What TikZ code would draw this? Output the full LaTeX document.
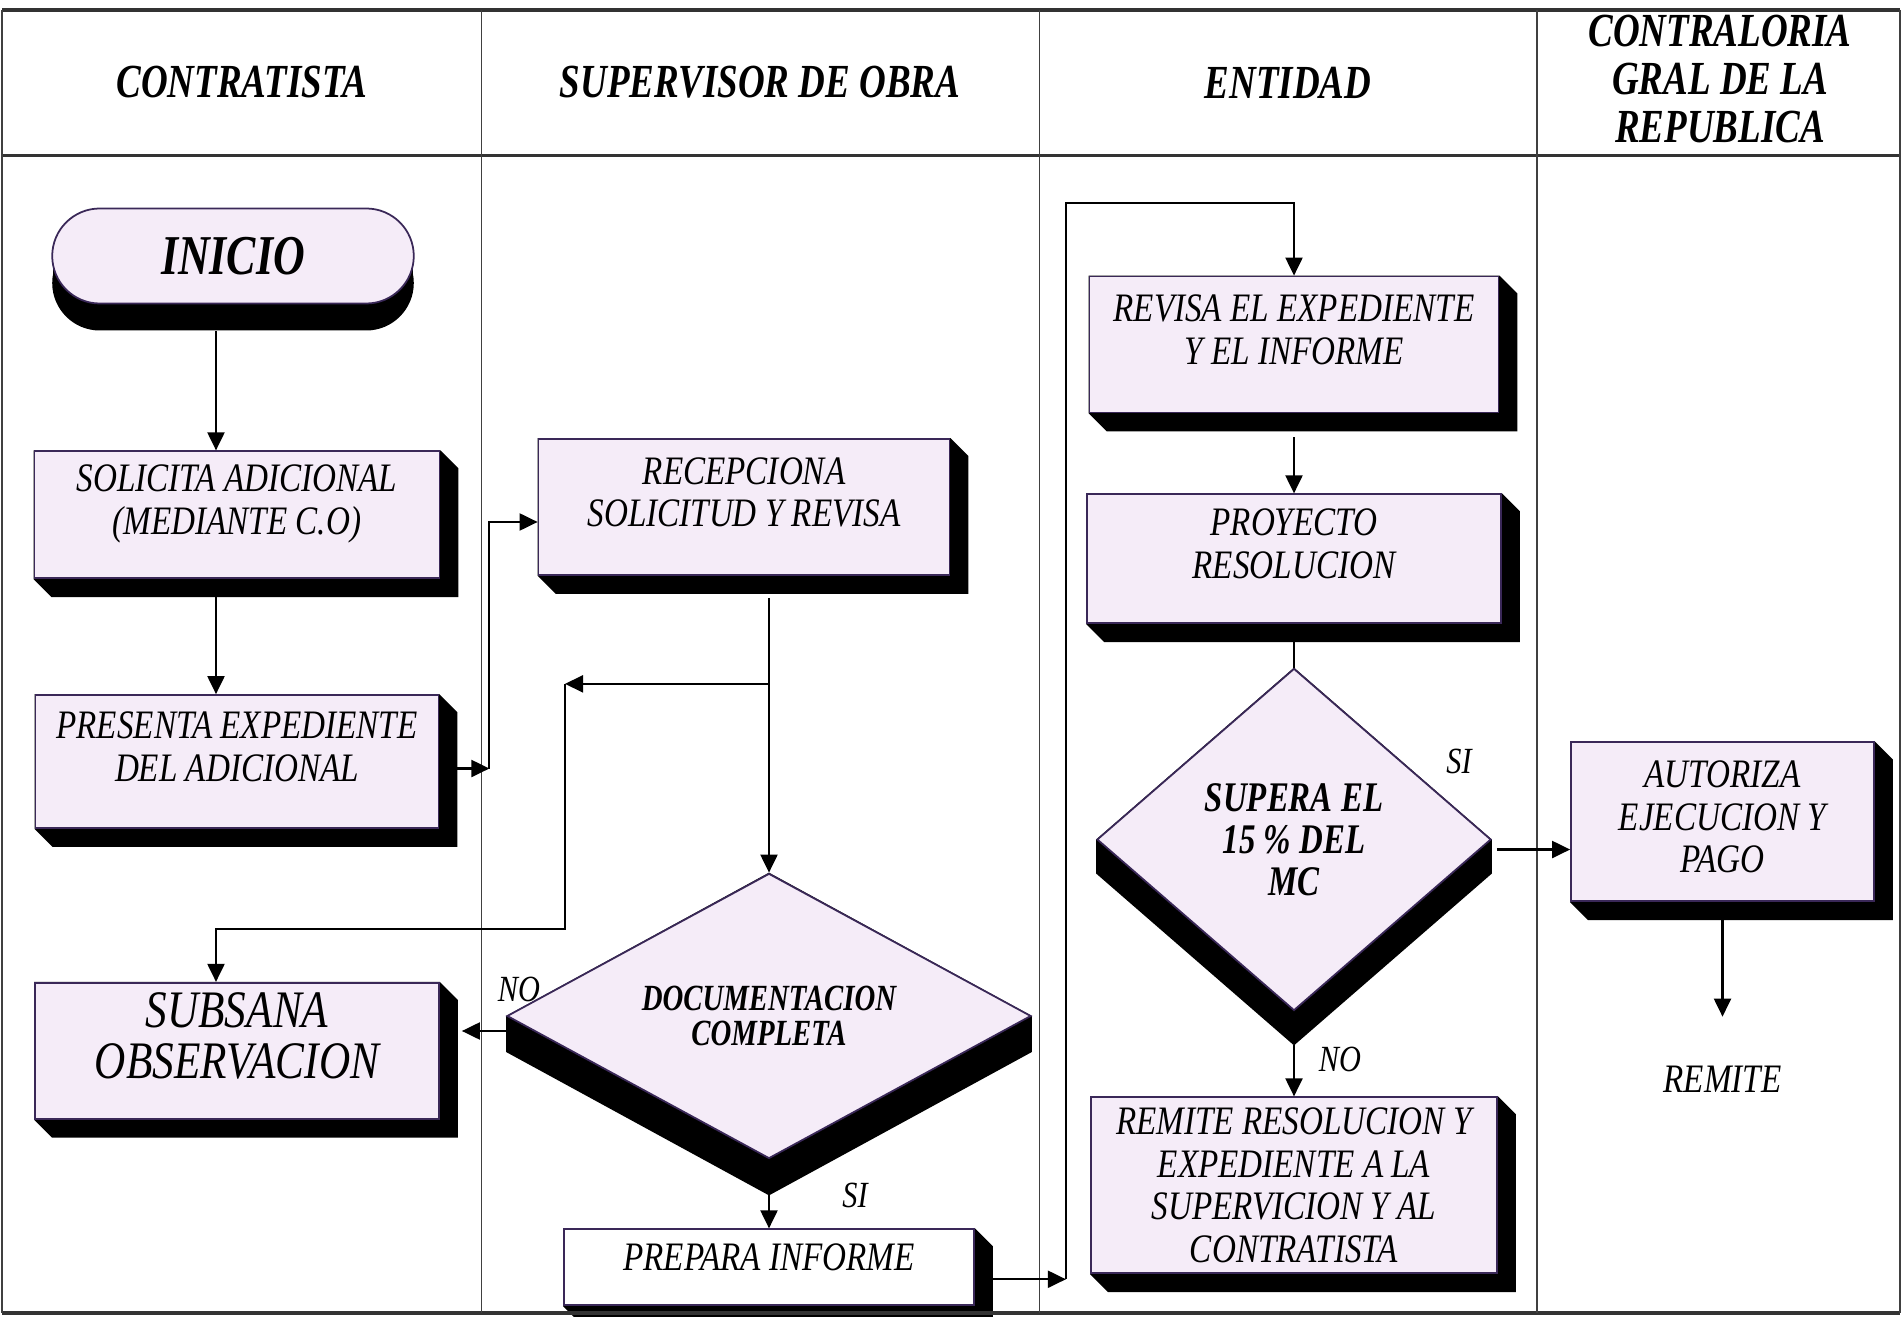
\documentclass[tikz,border=0pt]{standalone}
\usepackage{fontspec}
\setmainfont{Liberation Serif}
\newfontfamily\letra[FakeStretch=0.82]{Liberation Serif}
\newfontfamily\titulo[FakeStretch=0.78]{Liberation Serif}
\usetikzlibrary{positioning,calc,shapes.geometric,shapes.misc,shadows,arrows.meta}
\definecolor{lila}{RGB}{245,236,248}
\definecolor{borde}{RGB}{58,40,88}
\pgfdeclarelayer{fondo}
\pgfsetlayers{fondo,main}

% sombra en relieve de una caja y de un rombo
\newcommand{\sombracaja}[1]{%
  \fill[black] (#1.north west) -- (#1.north east) -- ++(.18,-.18)
    -- ($(#1.south east)+(.18,-.18)$) -- ($(#1.south west)+(.18,-.18)$) -- (#1.south west) -- cycle;}
\newcommand{\sombrarombo}[2]{%
  \fill[black] (#1.north) -- (#1.east) -- ++(0,-#2)
    -- ($(#1.south)+(0,-#2)$) -- ($(#1.west)+(0,-#2)$) -- (#1.west) -- cycle;}

\tikzset{
  caja/.style={rectangle, draw=borde, line width=.5pt, fill=lila, align=center, inner sep=1pt,
               text depth=.3cm, font=\letra\itshape\fontsize{11.5}{12.1}\selectfont},
  decision/.style={diamond, draw=borde, line width=.5pt, fill=lila, align=center, inner sep=0pt,
                   font=\titulo\bfseries\itshape\fontsize{10.5}{10.2}\selectfont},
  inicio/.style={rounded rectangle, draw=borde, line width=.5pt, fill=lila,
                 minimum width=3.85cm, minimum height=.95cm,
                 general shadow={fill=black, shadow xshift=0cm, shadow yshift=-.27cm},
                 font=\titulo\bfseries\itshape\fontsize{16}{16}\selectfont},
  carril/.style={align=center, font=\titulo\bfseries\itshape\fontsize{13.5}{13.6}\selectfont},
  etiqueta/.style={inner sep=0pt, font=\letra\itshape\fontsize{10.5}{12}\selectfont},
  flecha/.style={line width=.6pt, -{Triangle[length=1.8mm,width=1.7mm]}},
  linea/.style={line width=.6pt},
  marco/.style={line width=.5pt, black!75},
  marcoh/.style={line width=1pt, black!80}
}

\begin{document}
\begin{tikzpicture}
\useasboundingbox (0,0) rectangle (19.02,-13.17);

% marco y carriles
\draw[marcoh] (0.02,-0.10) -- (19.0,-0.10);
\draw[marcoh] (0.02,-1.553) -- (19.0,-1.553);
\draw[marcoh] (0.02,-13.13) -- (19.0,-13.13);
\foreach \x in {0.02,4.816,10.395,15.369,19.0}
  \draw[marco] (\x,-0.10) -- (\x,-13.13);

\node[carril] (tContratista) at (2.42,-0.825) {CONTRATISTA};
\node[carril] (tSupervisor) at (7.60,-0.825) {SUPERVISOR DE OBRA};
\node[carril] (tEntidad) at (12.88,-0.825) {ENTIDAD};
\node[carril] (tContraloria) at (17.20,-0.79) {CONTRALORIA\\GRAL DE LA\\REPUBLICA};

% contratista
\node[inicio] (inicio) at (2.33,-2.56) {INICIO};
\node[caja, minimum width=4.05cm, minimum height=1.27cm, below=1.46cm of inicio, xshift=.04cm] (solicita) {SOLICITA ADICIONAL\\(MEDIANTE C.O)};
\node[caja, minimum width=4.03cm, minimum height=1.33cm, below=1.15cm of solicita] (presenta) {PRESENTA EXPEDIENTE\\DEL ADICIONAL};
\node[caja, minimum width=4.04cm, minimum height=1.36cm, below=1.53cm of presenta,
      font=\letra\itshape\fontsize{15}{14.5}\selectfont] (subsana) {SUBSANA\\OBSERVACION};

% supervisor de obra
\node[caja, minimum width=4.11cm, minimum height=1.36cm] (recepciona) at (7.44,-5.07) {RECEPCIONA\\SOLICITUD Y REVISA};
\node[decision, minimum width=5.24cm, minimum height=2.85cm, aspect=1.84] (documentacion) at (7.69,-10.16) {DOCUMENTACION\\COMPLETA};
\node[caja, fill=white, text depth=.2cm, minimum width=4.10cm, minimum height=.76cm, below=.69cm of documentacion] (prepara) {PREPARA INFORME};

% entidad
\node[caja, minimum width=4.09cm, minimum height=1.36cm] (revisa) at (12.94,-3.445) {REVISA EL EXPEDIENTE\\Y EL INFORME};
\node[caja, minimum width=4.14cm, minimum height=1.29cm, below=.80cm of revisa] (proyecto) {PROYECTO\\RESOLUCION};
\node[decision, minimum width=3.94cm, minimum height=3.42cm, aspect=1.15, below=.435cm of proyecto,
      font=\titulo\bfseries\itshape\fontsize{12}{11.9}\selectfont] (supera) {SUPERA EL\\15 \% DEL\\MC};
\node[caja, text depth=0pt, minimum width=4.06cm, minimum height=1.76cm, below=.85cm of supera] (remite) {REMITE RESOLUCION Y\\EXPEDIENTE A LA\\SUPERVICION Y AL\\CONTRATISTA};

% contraloria
\node[caja, text depth=.1cm, minimum width=3.03cm, minimum height=1.59cm] (autoriza) at (17.225,-8.218) {AUTORIZA\\EJECUCION Y\\PAGO};
\node[etiqueta, font=\letra\itshape\fontsize{11.5}{12}\selectfont] (remiteC) at (17.225,-10.796) {REMITE};

% etiquetas
\node[etiqueta] (noA) at (5.19,-9.89) {NO};
\node[etiqueta] (siA) at (8.55,-11.95) {SI};
\node[etiqueta] (siB) at (14.59,-7.61) {SI};
\node[etiqueta] (noB) at (13.40,-10.59) {NO};

% sombras
\begin{pgfonlayer}{fondo}
  \foreach \n in {solicita,presenta,subsana,recepciona,prepara,revisa,proyecto,remite,autoriza}
    {\sombracaja{\n}}
  \sombrarombo{documentacion}{.36}
  \sombrarombo{supera}{.34}
  \fill[black] ($(inicio.west)+(.02,-.27)$) rectangle ($(inicio.east)+(-.02,0)$);
\end{pgfonlayer}

% conectores
\coordinate (ejeA) at (2.16,0);
\draw[flecha] ($(inicio.south -| ejeA)+(0,-.27)$) -- (solicita.north -| ejeA);
\draw[flecha] ($(solicita.south -| ejeA)+(0,-.18)$) -- (presenta.north -| ejeA);
\draw[flecha] ($(presenta.east)+(.18,-.07)$) -- ++(.32,0) coordinate (codo1);
\draw[flecha] (codo1) |- ($(recepciona.west)+(0,-.15)$);

\draw[flecha] ($(recepciona.south -| documentacion.north)+(0,-.22)$) -- (documentacion.north);
\draw[flecha] ($(recepciona.south -| documentacion.north)+(0,-1.08)$) -- ++(-2.04,0) coordinate (codo2);
\draw[flecha] (codo2) -- ++(0,-2.45) -| (subsana.north -| ejeA);
\coordinate (doc1) at ($(documentacion.west)+(0,-.15)$);
\draw[flecha] (doc1) -- ($(subsana.east |- doc1)+(.22,0)$);
\draw[flecha, shorten <=3.6mm] (documentacion) -- (prepara);
\draw[flecha] ($(prepara.east)+(.18,-.12)$) -- ++(.73,0) coordinate (codo3);
\draw[flecha] (codo3) |- ($(revisa.north)+(0,.73)$) -- (revisa.north);

\draw[flecha, shorten <=2.4mm] (revisa) -- (proyecto);
\draw[linea, shorten <=1.8mm] (proyecto) -- (supera);
\draw[flecha, shorten <=3.4mm] (supera) -- (remite);
\coordinate (sup1) at ($(supera.east)+(.05,-.1)$);
\draw[flecha] (sup1) -- (autoriza.west |- sup1);
\draw[flecha, shorten <=1.8mm, shorten >=4.9mm] (autoriza) -- (remiteC);
\end{tikzpicture}
\end{document}
